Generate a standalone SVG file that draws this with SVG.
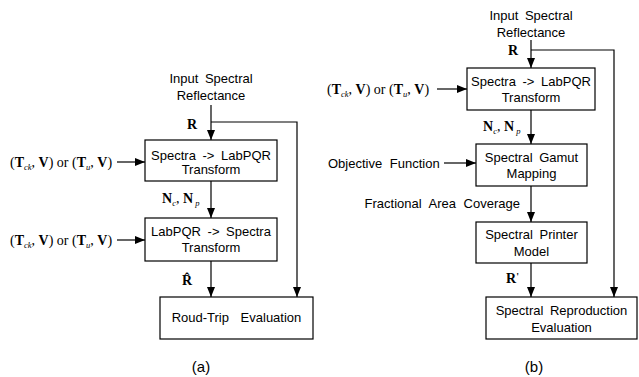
<svg xmlns="http://www.w3.org/2000/svg" width="639" height="377" viewBox="0 0 639 377">
<style>
  .box{fill:#fff;stroke:#000;stroke-width:1.2}
  .t{font-family:"Liberation Sans",Arial,sans-serif;font-size:13px;fill:#000;text-anchor:middle;word-spacing:3px}
  .tl{font-family:"Liberation Sans",Arial,sans-serif;font-size:13px;fill:#000;word-spacing:4px}
  .m{font-family:"Liberation Serif","Times New Roman",serif;font-size:14px;fill:#000}
  .b{font-weight:bold}
  .s{font-style:italic;font-size:8.5px}
  .cap{font-family:"Liberation Sans",Arial,sans-serif;font-size:15px;fill:#000;text-anchor:middle}
  .c{fill:none;stroke:#000;stroke-width:1.2}
</style>
<defs>
  <marker id="ah" viewBox="0 0 10 8" refX="10" refY="4" markerWidth="10" markerHeight="8" markerUnits="userSpaceOnUse" orient="auto">
    <path d="M0,0 L10,4 L0,8 z" fill="#000"/>
  </marker>
</defs>

<g id="connectors">
  <!-- (a) -->
  <path class="c" d="M211,105 V140" marker-end="url(#ah)"/>
  <path class="c" d="M211,122 H297 V297" marker-end="url(#ah)"/>
  <path class="c" d="M211,181 V218" marker-end="url(#ah)"/>
  <path class="c" d="M211,261 V297" marker-end="url(#ah)"/>
  <path class="c" d="M117,162 H145" marker-end="url(#ah)"/>
  <path class="c" d="M117,240 H145" marker-end="url(#ah)"/>
  <!-- (b) -->
  <path class="c" d="M531,40 V68" marker-end="url(#ah)"/>
  <path class="c" d="M531,50 H614 V297" marker-end="url(#ah)"/>
  <path class="c" d="M531,110 V144" marker-end="url(#ah)"/>
  <path class="c" d="M531,186 V222" marker-end="url(#ah)"/>
  <path class="c" d="M531,263 V297" marker-end="url(#ah)"/>
  <path class="c" d="M437,89 H467" marker-end="url(#ah)"/>
  <path class="c" d="M444,163 H476" marker-end="url(#ah)"/>
</g>

<!-- (a) -->
<g id="a_input">
  <text class="t" x="211" y="82.5">Input Spectral</text>
  <text class="t" x="211" y="99.5">Reflectance</text>
</g>
<g id="a_spec2lab">
  <rect class="box" x="145" y="140" width="132" height="41"/>
  <text class="t" x="211" y="159.5">Spectra -&gt; LabPQR</text>
  <text class="t" x="211" y="173.5">Transform</text>
</g>
<g id="a_lab2spec">
  <rect class="box" x="145" y="218" width="132" height="43"/>
  <text class="t" x="211" y="235.5">LabPQR -&gt; Spectra</text>
  <text class="t" x="211" y="251.5">Transform</text>
</g>
<g id="a_eval">
  <rect class="box" x="160" y="297" width="153" height="42"/>
  <text class="t" x="236.5" y="322" style="word-spacing:8px">Roud-Trip Evaluation</text>
</g>
<g id="a_labels">
  <text class="m" x="10" y="167"><tspan>(</tspan><tspan class="b">T</tspan><tspan class="s" dy="2.5">ck</tspan><tspan dy="-2.5">, </tspan><tspan class="b">V</tspan><tspan>) or (</tspan><tspan class="b">T</tspan><tspan class="s" dy="2.5">u</tspan><tspan dy="-2.5">, </tspan><tspan class="b">V</tspan><tspan>)</tspan></text>
  <text class="m" x="10" y="245"><tspan>(</tspan><tspan class="b">T</tspan><tspan class="s" dy="2.5">ck</tspan><tspan dy="-2.5">, </tspan><tspan class="b">V</tspan><tspan>) or (</tspan><tspan class="b">T</tspan><tspan class="s" dy="2.5">u</tspan><tspan dy="-2.5">, </tspan><tspan class="b">V</tspan><tspan>)</tspan></text>
  <text class="m b" x="187" y="129">R</text>
  <text class="m" x="162" y="203"><tspan class="b">N</tspan><tspan class="s" dy="3">c</tspan><tspan dy="-3">, </tspan><tspan class="b">N</tspan><tspan class="s" dy="3"> p</tspan></text>
  <text class="m b" x="182" y="285">R̂</text>
  <text class="cap" x="201" y="372">(a)</text>
</g>

<!-- (b) -->
<g id="b_input">
  <text class="t" x="531" y="19.5">Input Spectral</text>
  <text class="t" x="531" y="36.5">Reflectance</text>
</g>
<g id="b_spec2lab">
  <rect class="box" x="467" y="68" width="128" height="42"/>
  <text class="t" x="531" y="85.5">Spectra -&gt; LabPQR</text>
  <text class="t" x="531" y="101.5">Transform</text>
</g>
<g id="b_gamut">
  <rect class="box" x="476" y="144" width="111" height="42"/>
  <text class="t" x="531.5" y="161.5">Spectral Gamut</text>
  <text class="t" x="531.5" y="177.5">Mapping</text>
</g>
<g id="b_printer">
  <rect class="box" x="476" y="222" width="111" height="41"/>
  <text class="t" x="531.5" y="238.5">Spectral Printer</text>
  <text class="t" x="531.5" y="255.5">Model</text>
</g>
<g id="b_eval">
  <rect class="box" x="486" y="297" width="151" height="42"/>
  <text class="t" x="561.5" y="314.5">Spectral Reproduction</text>
  <text class="t" x="561.5" y="331.5">Evaluation</text>
</g>
<g id="b_labels">
  <text class="m" x="327" y="94"><tspan>(</tspan><tspan class="b">T</tspan><tspan class="s" dy="2.5">ck</tspan><tspan dy="-2.5">, </tspan><tspan class="b">V</tspan><tspan>) or (</tspan><tspan class="b">T</tspan><tspan class="s" dy="2.5">u</tspan><tspan dy="-2.5">, </tspan><tspan class="b">V</tspan><tspan>)</tspan></text>
  <text class="tl" x="328" y="167.5">Objective Function</text>
  <text class="tl" x="520" y="207.5" text-anchor="end">Fractional Area Coverage</text>
  <text class="m b" x="508" y="55">R</text>
  <text class="m" x="483" y="131"><tspan class="b">N</tspan><tspan class="s" dy="3">c</tspan><tspan dy="-3">, </tspan><tspan class="b">N</tspan><tspan class="s" dy="3"> p</tspan></text>
  <text class="m b" x="506" y="283">R<tspan font-size="10" dy="-3">'</tspan></text>
  <text class="cap" x="534" y="372">(b)</text>
</g>
</svg>
